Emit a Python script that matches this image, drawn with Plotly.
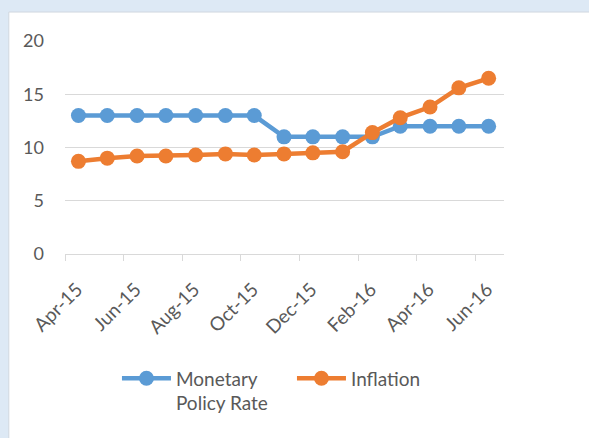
import plotly.graph_objects as go

months = ["2015-04-15", "2015-05-15", "2015-06-15", "2015-07-15", "2015-08-15",
          "2015-09-15", "2015-10-15", "2015-11-15", "2015-12-15", "2016-01-15",
          "2016-02-15", "2016-03-15", "2016-04-15", "2016-05-15", "2016-06-15"]
policy_rate = [13, 13, 13, 13, 13, 13, 13, 11, 11, 11, 11, 12, 12, 12, 12]
inflation = [8.7, 9.0, 9.2, 9.2, 9.3, 9.4, 9.3, 9.4, 9.5, 9.6, 11.4, 12.8, 13.8, 15.6, 16.5]
y_ticks = [0, 5, 10, 15, 20]

BLUE = "#5B9BD5"
ORANGE = "#ED7D31"
FONT = "Lato"
TXT = "#595959"

fig = go.Figure()
fig.add_trace(go.Scatter(x=months, y=policy_rate, name="Monetary<br>Policy Rate",
                         mode="lines+markers", line=dict(color=BLUE, width=4.5),
                         marker=dict(color=BLUE, size=15)))
fig.add_trace(go.Scatter(x=months, y=inflation, name="Inflation",
                         mode="lines+markers", line=dict(color=ORANGE, width=4.5),
                         marker=dict(color=ORANGE, size=15)))

fig.add_shape(type="rect", xref="paper", yref="paper", x0=-0.128, x1=1.5, y0=-1.5, y1=1.136,
              fillcolor="white", line=dict(color="#d0d7df", width=1), layer="below")

fig.update_layout(
    width=589, height=438,
    margin=dict(l=65, r=85, t=41, b=184),
    paper_bgcolor="#dde9f5", plot_bgcolor="rgba(0,0,0,0)",
    font=dict(family=FONT, color=TXT, size=18),
    showlegend=True,
    legend=dict(orientation="h", x=0.517, xanchor="center", y=-0.495, yanchor="top",
                valign="top", font=dict(size=19, color=TXT), itemwidth=49,
                entrywidth=111, entrywidthmode="pixels",
                bgcolor="rgba(0,0,0,0)"),
    xaxis=dict(type="date", range=["2015-04-01", "2016-07-01"], dtick="M2",
               tick0="2015-04-01", tickformat="%b-%y", tickangle=-45,
               ticks="outside", ticklen=6, tickcolor="#d9d9d9",
               ticklabelshift=12, ticklabelstandoff=10,
               showgrid=False, showline=True, linecolor="#d9d9d9", linewidth=1,
               tickfont=dict(size=19, color=TXT), fixedrange=True),
    yaxis=dict(range=[0, 20], tickvals=y_ticks, showgrid=True, gridcolor="#d9d9d9",
               gridwidth=1, zeroline=False, showline=False, ticks="",
               tickfont=dict(size=18, color=TXT), ticklabelstandoff=20, fixedrange=True),
)

fig.write_html("out.html", config={"displayModeBar": False},
               post_script="document.body.style.margin='0';document.body.style.overflow='hidden';")
